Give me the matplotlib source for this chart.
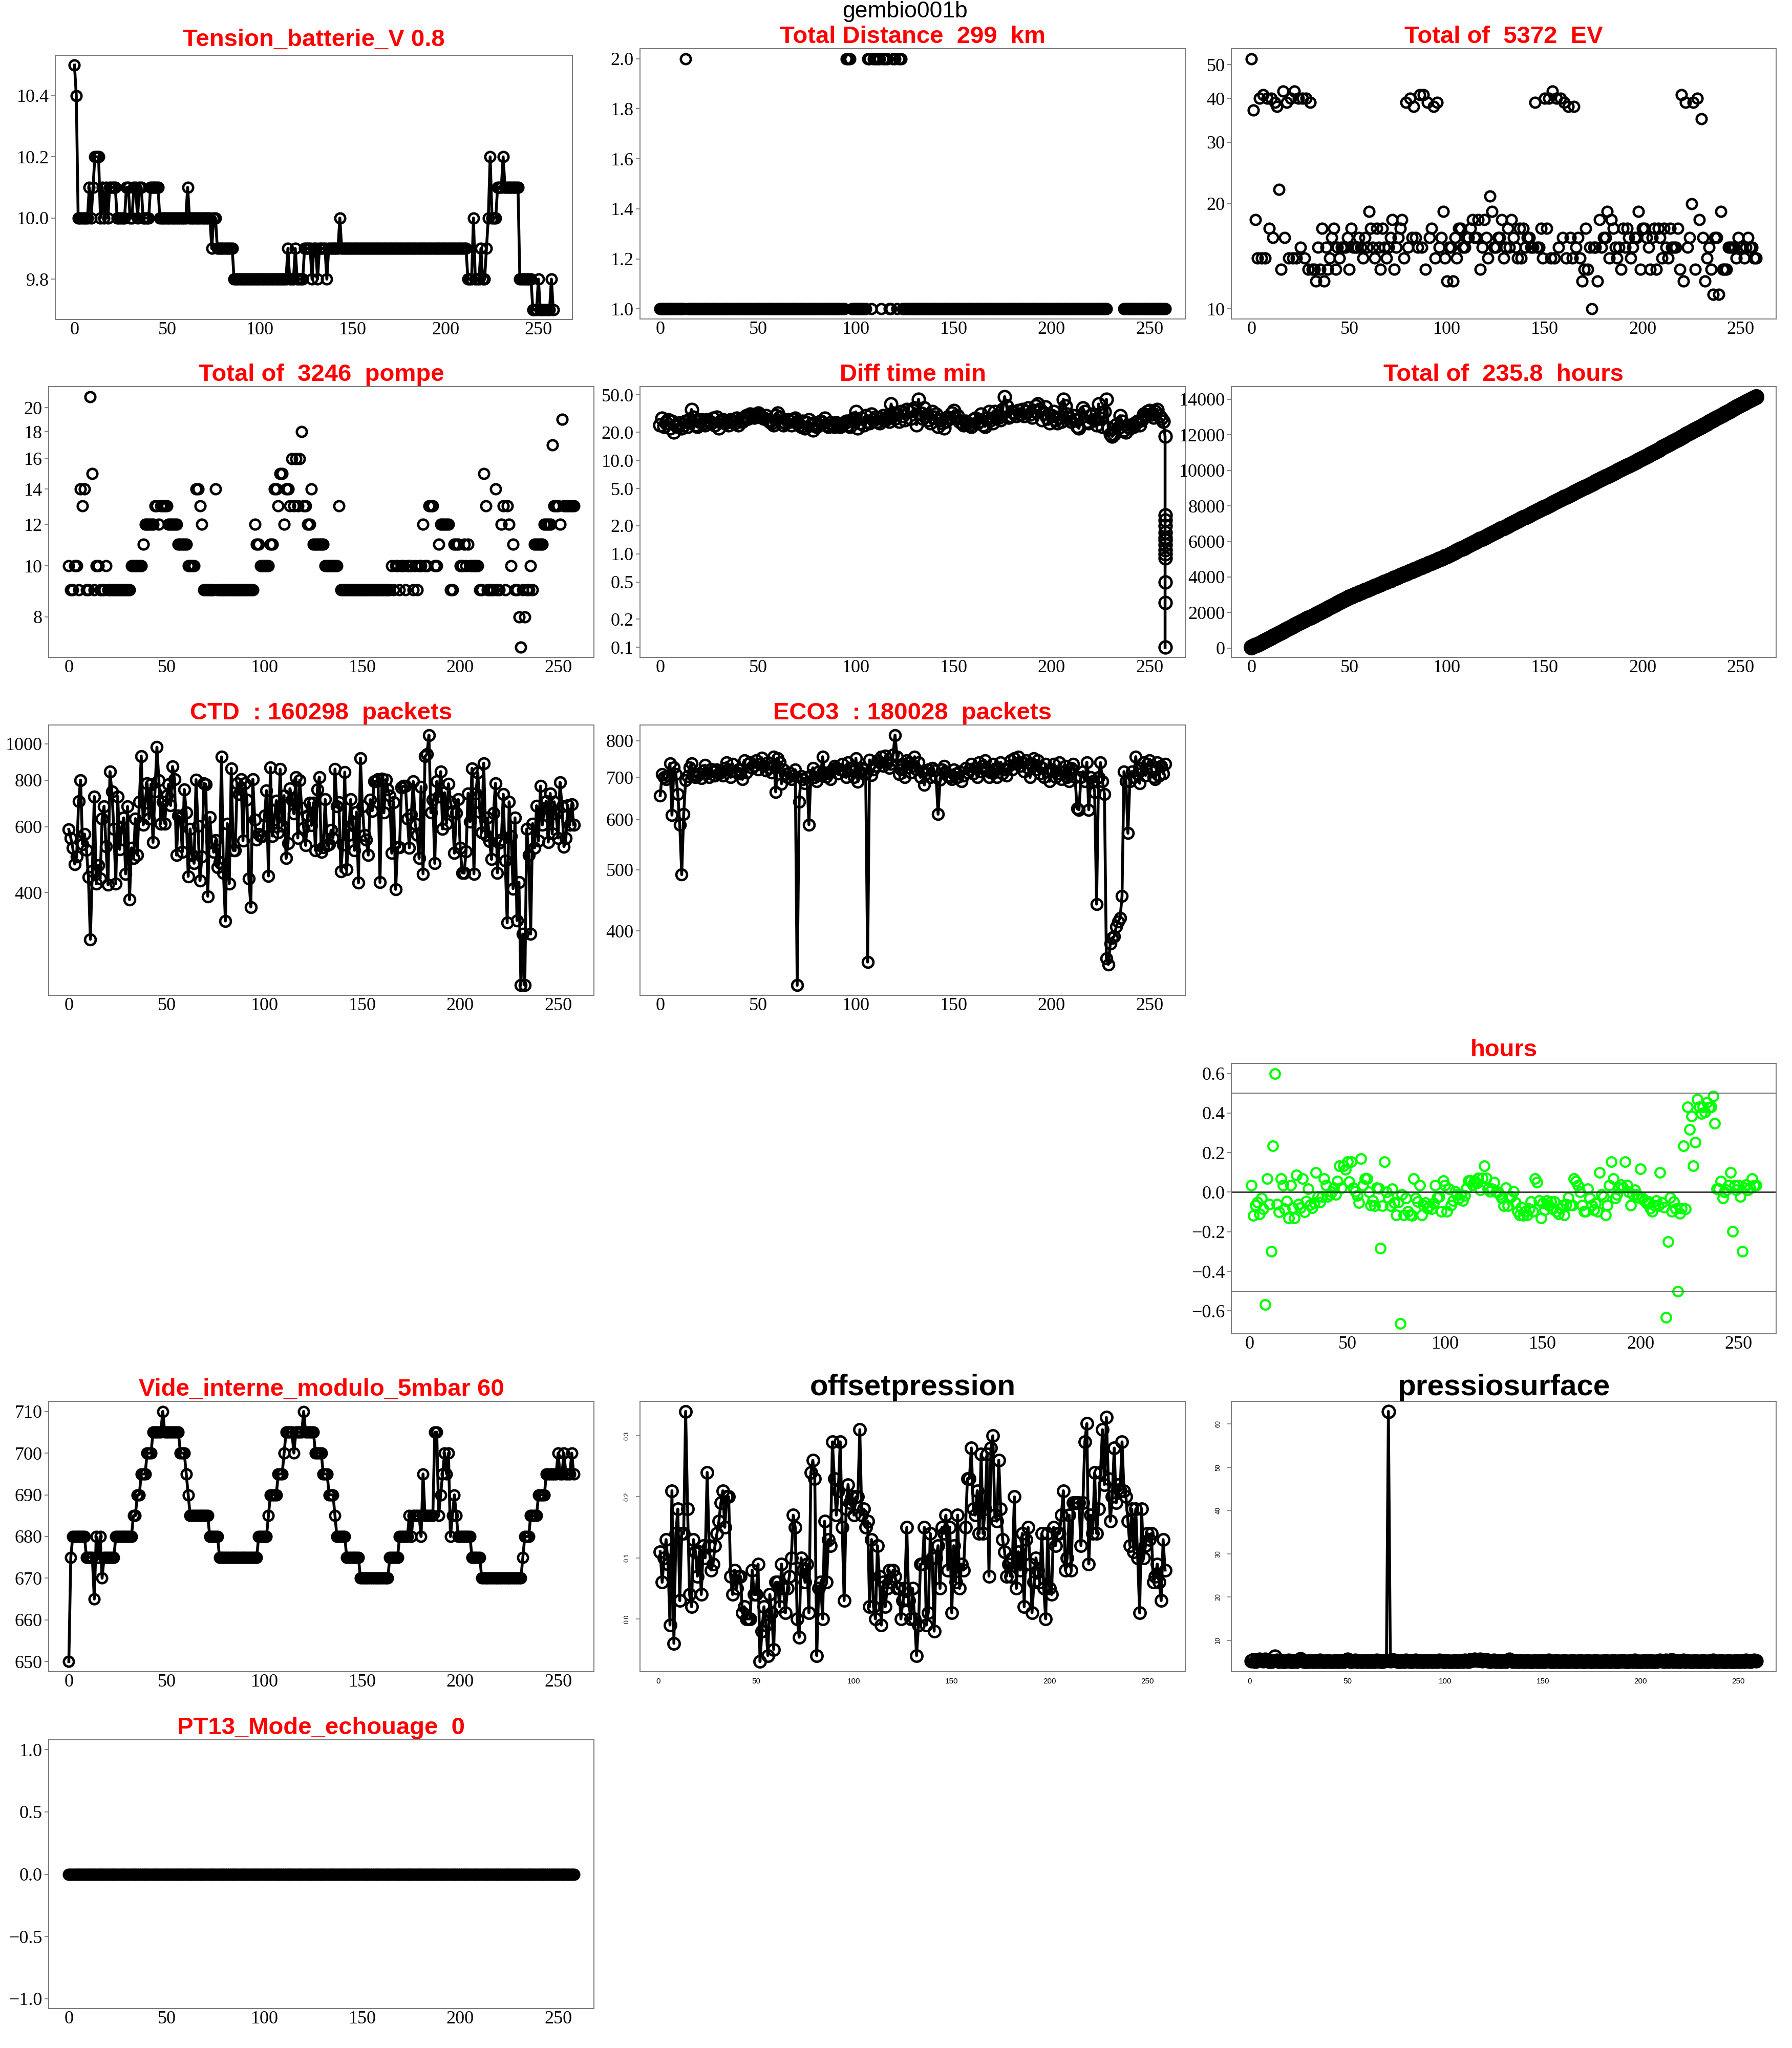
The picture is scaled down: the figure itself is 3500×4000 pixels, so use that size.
import numpy as np
import matplotlib
matplotlib.use("Agg")
import matplotlib.pyplot as plt
from matplotlib.ticker import NullLocator

# ---------------- data ----------------
def rle(pairs):
    out = []
    for v, n in pairs:
        out += [v] * n
    return out

tension_rle = [(10.5,1),(10.4,1),(10.0,6),(10.1,1),(10.0,1),(10.1,1),(10.2,3),(10.0,1),(10.1,1),(10.0,1),
               (10.1,1),(10.0,1),(10.1,4),(10.0,5),(10.1,2),(10.0,2),(10.1,2),(10.0,1),(10.1,2),(10.0,4),
               (10.1,5),(10.0,15),(10.1,1),(10.0,12),(9.9,1),(10.0,2),(9.9,9),(9.8,29),(9.9,1),(9.8,3),
               (9.9,1),(9.8,4),(9.9,4),(9.8,1),(9.9,2),(9.8,1),(9.9,4),(9.8,1),(9.9,6),(10.0,1),(9.9,68),
               (9.8,3),(10.0,1),(9.8,3),(9.9,1),(9.8,2),(9.9,1),(10.0,1),(10.2,1),(10.0,3),(10.1,3),
               (10.2,1),(10.1,8),(9.8,7),(9.7,3),(9.8,1),(9.7,6),(9.8,1),(9.7,1)]
tension = rle(tension_rle)

nan = float("nan")
distance_rle = [(1,13),(2,1),(1,81),(2,3),(1,8),(2,2),(1,1),(2,4),(1,1),(2,3),(1,2),(2,2),(1,1),(2,2),
                (1,105),(nan,8),(1,22)]
distance = rle(distance_rle)

ev = [52,37,18,14,40,14,41,14,40,17, 40,16,39,38,22,13,42,16,39,14, 40,14,42,14,40,15,40,14,40,13,
      39,13,13,12,15,13,17,12,15,13, 14,16,17,13,15,14,15,15,15,16, 13,17,15,15,15,16,15,14,16,15,
      19,17,15,14,17,15,13,17,15,14, 15,16,18,13,15,16,17,18,14,39, 15,40,16,38,16,15,41,15,41,13,
      39,16,17,38,14,39,15,16,19,14, 12,15,15,12,16,14,17,17,15,15, 16,16,17,18,16,16,18,13,15,18,
      16,14,21,19,15,15,16,16,18,14, 15,17,15,18,16,15,14,17,14,17, 15,16,16,15,15,39,15,15,17,14,
      40,17,40,14,42,14,40,15,40,16, 39,14,38,16,14,38,15,16,14,12, 13,17,13,15,10,15,15,12,18,15,
      16,16,19,14,18,17,15,14,15,13, 17,15,17,16,14,15,16,16,19,13, 17,17,16,15,13,16,17,13,17,16,
      14,17,15,14,17,15,15,15,17,13, 41,12,39,15,16,20,39,13,40,18, 35,16,12,14,15,13,11,16,16,11,
      19,13,13,13,15,15,15,15,14,16, 15,15,14,15,16,15,15,14,14]

pompe = [10,9,9,10,10,9,14,13,14,9, 9,21,15,9,10,10,9,9,9,10, 9,9,9,9,9,9,9,9,9,9,
         9,9,10,10,10,10,10,10,11,12, 12,12,12,12,13,13,12,13,13,13, 13,12,12,12,12,12,11,11,11,11,
         11,10,10,10,10,14,14,13,12,9, 9,9,9,9,9,14,9,9,9,9, 9,9,9,9,9,9,9,9,9,9,
         9,9,9,9,9,12,11,11,10,10, 10,10,10,11,11,14,14,13,15,15, 12,14,14,13,16,13,16,13,16,18,
         13,13,12,12,14,11,11,11,11,11, 11,10,10,10,10,10,10,10,13,9, 9,9,9,9,9,9,9,9,9,9,
         9,9,9,9,9,9,9,9,9,9, 9,9,9,9,9,10,9,10,10,9, 10,10,9,10,10,10,9,10,9,10,
         10,12,10,10,13,13,13,10,10,11, 12,12,12,12,12,9,9,11,11,11, 10,10,11,10,11,10,10,10,10,10,
         9,9,15,13,9,9,9,9,14,9, 9,12,13,9,13,12,10,11,9,9, 8,7,9,8,9,9,10,9,11,11,
         11,11,11,12,12,12,12,17,13,13, 13,12,19,13,13,13,13,13,13]

diff_main = [24,28,23,25,27,22,26,20,24,23, 25,22,24,26,23,27,35,29,24,23, 26,27,25,24,27,26,25,28,24,29,
             22,26,27,25,26,24,27,26,25,28, 24,27,26,29,30,28,31,30,29,31, 32,30,29,28,30,27,26,25,24,30,
             32,29,26,24,25,27,26,24,27,28, 25,24,23,26,22,25,27,24,21,25, 23,24,26,25,28,24,23,25,24,23,
             25,24,23,24,25,26,24,23,27,28, 33,22,25,28,24,30,26,25,31,27, 29,26,25,28,30,27,29,26,40,32,
             28,31,26,33,30,27,35,33,28,34, 36,24,45,32,28,36,30,27,25,33, 29,31,23,27,25,22,26,29,28,32,
             34,28,30,26,25,24,26,25,24,23, 27,28,25,26,31,24,23,28,33,27, 25,33,30,29,27,35,48,38,29,30,
             33,32,30,34,31,35,30,33,36,31, 29,34,38,40,35,27,32,37,28,25, 30,33,27,25,29,26,45,38,31,28,
             26,30,27,23,22,29,36,33,26,25, 30,31,27,24,40,28,23,33,45,22, 19,18,19,24,22,30,26,21,20,23,
             22,24,23,25,26,24,27,31,30,33, 34,31,29,33,35,30,28,26,18]
diff_tail = [2.6, 2.3, 2.0, 1.7, 1.5, 1.4, 1.25, 1.1, 1.0, 0.9, 0.5, 0.3, 0.1]

hours_total = [40,97,153,210,266,323,379,436,492,549, 605,662,718,775,831,888,944,1001,1057,1114,
               1170,1227,1283,1340,1396,1453,1509,1566,1622,1679, 1735,1792,1848,1905,1961,2018,2074,2131,2187,2244,
               2300,2357,2413,2470,2526,2583,2639,2696,2752,2809, 2866,2912,2959,3005,3051,3098,3144,3190,3236,3283,
               3329,3375,3422,3468,3514,3561,3607,3653,3699,3746, 3792,3838,3885,3931,3977,4024,4070,4116,4162,4209,
               4255,4301,4348,4394,4440,4487,4533,4579,4625,4672, 4718,4764,4811,4857,4903,4950,4996,5042,5088,5135,
               5183,5238,5293,5348,5403,5458,5512,5567,5622,5677, 5732,5787,5842,5897,5952,6007,6061,6116,6171,6226,
               6281,6336,6391,6446,6501,6556,6610,6665,6720,6775, 6830,6885,6940,6995,7050,7105,7159,7214,7269,7324,
               7379,7434,7489,7544,7599,7654,7708,7763,7818,7873, 7927,7982,8037,8092,8147,8202,8256,8311,8366,8421,
               8476,8531,8586,8641,8696,8751,8805,8860,8915,8970, 9025,9080,9135,9190,9245,9300,9354,9409,9464,9519,
               9574,9629,9684,9739,9794,9849,9903,9958,10013,10068, 10123,10178,10233,10288,10343,10398,10452,10507,10562,10617,
               10670,10730,10790,10850,10910,10970,11030,11090,11150,11210, 11270,11330,11390,11450,11510,11570,11630,11690,11750,11810,
               11870,11930,11990,12050,12110,12170,12230,12290,12350,12410, 12470,12530,12590,12650,12710,12770,12830,12890,12950,13010,
               13070,13130,13190,13250,13310,13370,13430,13490,13550,13610, 13670,13730,13790,13850,13910,13970,14030,14090,14146]

ctd = [590,560,527,477,500,702,800,539,574,521, 440,300,457,723,422,473,436,631,681,532,
       420,843,745,592,423,723,522,598,634,449, 680,383,527,494,631,504,700,928,607,695,
       784,631,780,545,745,980,800,612,700,612, 727,780,684,870,804,504,642,634,514,755,
       654,442,592,504,479,802,603,431,500,784, 780,391,636,549,513,552,467,482,923,452,
       336,612,423,860,519,518,784,733,804,550, 784,709,436,366,804,626,554,574,567,567,
       642,750,443,865,567,626,705,579,856,603, 727,494,542,759,709,650,813,560,800,674,
       596,535,642,695,605,696,519,755,815,513, 529,710,535,538,588,560,856,680,698,456,
       537,841,462,570,710,612,519,657,425,916, 680,570,554,504,709,662,793,793,804,426,
       807,654,802,755,727,510,698,408,529,529, 764,771,771,631,527,646,793,612,570,494,
       768,449,926,938,1056,654,709,479,793,723, 843,592,740,612,782,700,657,510,652,710,
       527,452,451,516,737,619,860,449,737,838, 657,579,888,570,634,549,491,652,784,452,
       543,554,733,487,332,700,567,410,634,337, 426,226,310,226,592,504,310,612,527,683,
       550,771,607,674,703,546,737,575,700,650, 560,790,680,531,560,684,607,690,607]

eco3 = [655,709,700,695,705,737,610,726,709,659, 589,491,612,693,703,726,737,705,700,705,
        710,698,718,732,710,700,722,715,705,720, 710,718,705,725,740,720,700,735,715,712,
        720,710,695,745,712,735,740,725,730,745, 720,735,752,730,718,740,725,712,755,664,
        751,740,684,720,708,700,712,695,705,720, 328,640,703,695,685,700,589,706,725,700,
        690,715,705,755,712,702,710,695,720,730, 725,710,720,735,715,700,740,725,718,700,
        751,689,715,725,720,710,357,746,706,720, 730,745,740,755,730,757,740,725,735,760,
        817,755,708,720,735,700,745,740,712,730, 755,720,740,700,715,681,710,720,700,725,
        718,700,612,694,720,730,715,705,700,695, 720,710,700,715,690,705,725,712,720,735,
        710,725,700,740,715,730,745,720,700,712, 735,718,700,725,740,710,720,705,730,745,
        720,750,735,755,730,740,715,745,725,700, 735,750,720,745,710,725,700,735,715,690,
        720,735,700,710,740,695,715,730,700,690, 725,735,700,625,622,700,715,690,740,622,
        700,690,664,441,700,739,690,659,362,354, 382,390,392,406,414,419,454,715,690,571,
        690,715,700,755,710,685,725,740,705,735, 745,720,700,695,740,705,730,710,735]

hours_dev = [0.035,-0.118,-0.065,-0.05,-0.11,-0.03,-0.085,-0.567,0.068,-0.06,
             -0.30,0.235,0.6,-0.06,-0.10,0.068,0.035,-0.085,-0.045,-0.13,
             0.035,-0.08,-0.13,0.087,-0.06,-0.08,0.068,-0.10,-0.045,0.016,
             -0.063,-0.08,-0.052,0.1,-0.022,-0.05,-0.022,0.068,0.035,-0.022,
             -0.011,0.0,0.022,-0.011,0.055,0.133,0.022,0.133,0.115,0.153,
             0.052,0.153,0.022,0.005,-0.016,-0.052,0.17,0.035,0.068,0.068,
             0.0,-0.065,-0.044,-0.069,0.022,0.02,-0.284,-0.069,0.153,0.0,
             -0.03,-0.069,0.016,-0.052,-0.115,-0.05,-0.665,-0.011,-0.115,-0.031,
             -0.098,-0.115,-0.118,0.068,-0.031,-0.049,0.035,-0.115,-0.065,-0.052,
             -0.082,-0.069,-0.085,-0.055,0.035,-0.027,-0.022,-0.098,0.057,0.035,
             -0.098,0.016,-0.065,-0.044,0.005,-0.011,-0.033,-0.011,-0.044,-0.016,
             0.018,0.057,0.057,0.038,0.057,0.044,0.071,0.011,0.071,0.133,
             0.071,0.016,0.005,0.016,0.051,0.0,0.0,-0.011,-0.031,-0.069,
             0.022,-0.069,-0.031,-0.022,0.005,-0.052,-0.098,-0.115,-0.076,-0.118,
             -0.098,-0.115,-0.085,-0.049,-0.098,0.068,0.051,-0.044,-0.131,-0.055,
             -0.089,-0.044,-0.065,-0.049,-0.085,-0.049,-0.098,-0.109,-0.082,-0.065,
             -0.115,-0.06,-0.027,-0.065,-0.065,0.068,0.055,0.035,0.0,-0.065,
             -0.098,-0.098,0.016,-0.031,-0.065,-0.089,-0.055,-0.098,0.1,-0.011,
             -0.022,-0.115,-0.065,0.035,0.153,0.068,-0.031,-0.011,0.022,0.038,
             0.022,0.153,0.035,0.0,-0.065,-0.011,0.011,-0.011,-0.027,0.118,
             -0.031,-0.044,-0.055,-0.049,-0.082,-0.098,-0.065,-0.044,-0.069,0.1,
             -0.052,-0.076,-0.633,-0.249,-0.027,-0.098,-0.049,-0.085,-0.5,-0.107,
             -0.082,0.235,-0.085,0.431,0.318,0.384,0.133,0.251,0.469,0.431,
             0.398,0.431,0.406,0.453,0.428,0.431,0.485,0.349,0.016,0.016,
             0.055,-0.031,0.0,0.011,0.035,0.1,-0.199,0.035,0.011,0.035,
             -0.022,-0.30,0.022,0.038,0.011,0.022,0.068,0.035,0.035]

vide_rle = [(650,1),(675,1),(680,7),(675,4),(665,1),(680,1),(675,1),(680,1),(670,1),(675,6),(680,9),
            (685,2),(690,2),(695,3),(700,3),(705,5),(710,1),(705,8),(700,3),(695,1),(690,1),(685,10),
            (680,5),(675,20),(680,5),(685,1),(690,4),(695,3),(700,1),(705,4),(700,1),(705,4),(710,1),
            (705,5),(700,4),(695,3),(690,3),(685,1),(680,5),(675,7),(670,15),(675,5),(680,5),(685,1),
            (680,1),(685,4),(680,1),(695,1),(685,5),(705,2),(685,1),(690,1),(695,1),(700,1),(695,1),
            (700,1),(680,1),(685,1),(690,1),(685,1),(680,7),(675,5),(670,21),(675,1),(680,3),(685,4),
            (690,4),(695,6),(700,1),(695,2),(700,1),(695,3),(700,1),(695,1)]
vide = rle(vide_rle)

offset = [0.11,0.06,0.10,0.13,0.09,-0.01,0.21,-0.04,0.14,0.18, 0.03,0.14,0.14,0.34,0.18,0.04,0.02,0.13,0.11,0.07,
          0.11,0.04,0.12,0.10,0.24,0.12,0.08,0.09,0.12,0.14, 0.16,0.19,0.21,0.15,0.20,0.20,0.07,0.04,0.08,0.05,
          0.07,0.07,0.01,0.02,0.0,0.0,0.0,0.08,0.04,0.04, 0.09,-0.07,-0.02,0.02,-0.01,-0.06,0.04,0.01,-0.05,0.06,
          0.06,0.02,0.09,0.05,0.01,0.05,0.07,0.10,0.17,0.15, 0.0,-0.03,0.10,0.08,0.06,0.09,0.01,0.24,0.26,0.23,
          -0.06,0.05,0.06,0.0,0.16,0.06,0.13,0.12,0.29,0.23, 0.17,0.21,0.29,0.15,0.03,0.18,0.22,0.19,0.20,0.17,
          0.20,0.20,0.31,0.17,0.18,0.15,0.16,0.02,0.13,0.02, 0.0,0.12,0.07,-0.01,0.06,0.02,0.05,0.08,0.06,0.08,
          0.07,0.05,0.05,0.0,0.03,0.05,0.15,0.03,0.0,0.05, 0.0,-0.06,-0.01,0.09,0.09,0.15,-0.01,0.01,0.14,0.10,
          -0.02,0.10,0.12,0.05,0.15,0.14,0.17,0.08,0.15,0.01, 0.12,0.06,0.17,0.05,0.09,0.08,0.15,0.23,0.23,0.28,
          0.18,0.17,0.21,0.14,0.27,0.14,0.18,0.27,0.07,0.28, 0.30,0.17,0.16,0.26,0.18,0.13,0.11,0.07,0.09,0.07,
          0.10,0.20,0.05,0.11,0.08,0.14,0.02,0.13,0.15,0.09, 0.01,0.06,0.10,0.08,0.06,0.14,0.05,0.0,0.14,0.05,
          0.04,0.15,0.12,0.14,0.14,0.17,0.21,0.08,0.10,0.17, 0.08,0.19,0.19,0.19,0.19,0.12,0.19,0.29,0.32,0.09,
          0.17,0.14,0.24,0.14,0.18,0.24,0.31,0.22,0.33,0.23, 0.16,0.20,0.28,0.19,0.22,0.21,0.29,0.21,0.20,0.16,
          0.12,0.18,0.11,0.18,0.10,0.01,0.18,0.10,0.12,0.14, 0.13,0.14,0.06,0.07,0.09,0.06,0.03,0.13,0.08]

pressio = [5.3,5.5,5.2,5.4,5.6,5.5,5.3,5.6,5.4,5.1, 5.2,5.3,6.3,5.4,5.2,5.3,5.1,5.2,5.3,5.4,
           5.2,5.1,5.3,5.2,5.4,5.7,5.3,5.2,5.1,5.2, 5.3,5.2,5.1,5.3,5.2,5.4,5.2,5.1,5.2,5.3,
           5.2,5.1,5.2,5.3,5.2,5.1,5.3,5.2,5.4,5.6, 5.3,5.2,5.3,5.4,5.2,5.3,5.1,5.2,5.3,5.2,
           5.2,5.3,5.1,5.2,5.4,5.3,5.2,5.1,5.3,5.4, 62.9,5.3,5.5,5.4,5.3,5.2,5.1,5.3,5.2,5.4,
           5.3,5.2,5.1,5.3,5.4,5.2,5.3,5.1,5.2,5.3, 5.2,5.3,5.2,5.1,5.3,5.2,5.4,5.3,5.2,5.1,
           5.3,5.2,5.1,5.2,5.3,5.2,5.1,5.3,5.2,5.4, 5.3,5.2,5.5,5.4,5.6,5.5,5.4,5.6,5.3,5.4,
           5.5,5.3,5.2,5.3,5.4,5.2,5.3,5.1,5.2,5.3, 5.2,5.4,5.6,5.3,5.2,5.3,5.1,5.2,5.3,5.2,
           5.1,5.3,5.2,5.1,5.2,5.3,5.2,5.1,5.3,5.2, 5.2,5.3,5.4,5.2,5.1,5.2,5.3,5.2,5.1,5.2,
           5.3,5.2,5.1,5.2,5.3,5.2,5.1,5.2,5.3,5.2, 5.2,5.1,5.3,5.2,5.1,5.2,5.3,5.2,5.1,5.2,
           5.2,5.3,5.2,5.1,5.2,5.3,5.2,5.1,5.2,5.3, 5.3,5.2,5.1,5.2,5.3,5.2,5.4,5.2,5.1,5.2,
           5.2,5.3,5.2,5.1,5.3,5.2,5.1,5.2,5.3,5.4, 5.3,5.2,5.4,5.2,5.3,5.5,5.2,5.3,5.1,5.2,
           5.3,5.4,5.2,5.3,5.2,5.1,5.2,5.3,5.2,5.1, 5.2,5.3,5.2,5.1,5.2,5.3,5.4,5.2,5.1,5.2,
           5.3,5.2,5.1,5.2,5.3,5.2,5.1,5.2,5.3,5.2, 5.2,5.3,5.2,5.4,5.3,5.2,5.3,5.4,5.3]

pt13 = [0] * 259

titles = {
    "tension": "Tension_batterie_V 0.8",
    "distance": "Total Distance  299  km",
    "ev": "Total of  5372  EV",
    "pompe": "Total of  3246  pompe",
    "diff": "Diff time min",
    "hours_total": "Total of  235.8  hours",
    "ctd": "CTD  : 160298  packets",
    "eco3": "ECO3  : 180028  packets",
    "hours": "hours",
    "vide": "Vide_interne_modulo_5mbar 60",
    "offset": "offsetpression",
    "pressio": "pressiosurface",
    "pt13": "PT13_Mode_echouage  0",
}
xticks = [0, 50, 100, 150, 200, 250]

# ---------------- figure ----------------
plt.rcParams["font.family"] = ["Liberation Serif", "DejaVu Serif"]
W, H = 3500, 4000
fig = plt.figure(figsize=(35, 40), dpi=100)
fig.patch.set_facecolor("white")

cols = [(95, 1160), (1250, 2315), (2405, 3469)]
rows = [(95, 623), (755, 1284), (1416, 1944), (2077, 2605), (2737, 3265), (3398, 3923)]

def rect(x0, x1, y0, y1):
    return [x0 / W, 1 - y1 / H, (x1 - x0) / W, (y1 - y0) / H]

SPINE = "#7a7a7a"
TITLE_FONT = ["Liberation Sans", "DejaVu Sans"]

def make_ax(r, title, tcolor="red", tsize=34, tpad=8, serif=True):
    ax = fig.add_axes(r)
    for s in ax.spines.values():
        s.set_color(SPINE)
        s.set_linewidth(1.4)
    ax.set_title(title, color=tcolor, fontsize=tsize, fontweight="bold",
                 family=TITLE_FONT, pad=tpad)
    if serif:
        ax.tick_params(axis="y", length=6, width=1.3, color=SPINE, pad=3, labelsize=26)
        ax.tick_params(axis="x", length=0, pad=3, labelsize=26)
    ax.margins(x=0.04, y=0.04)
    return ax

def finish(ax, yt, ylab, log=False):
    ax.set_xticks(xticks)
    ax.set_xticklabels([str(v) for v in xticks])
    ax.set_yticks(yt)
    ax.set_yticklabels(ylab)
    if log:
        ax.yaxis.set_minor_locator(NullLocator())

LW = 4.0
MEW = 3.4
def lp(ax, x, y, ms=14, line=True, color="black", mew=MEW):
    ax.plot(x, y, linestyle="-" if line else "none", color=color, lw=LW,
            marker="o", ms=ms, mfc="none", mec=color, mew=mew)

# Row 1
ax = make_ax(rect(108, 1118, 108, 624), titles["tension"], tpad=13)
lp(ax, np.arange(len(tension)), tension)
finish(ax, [9.8, 10.0, 10.2, 10.4], ["9.8", "10.0", "10.2", "10.4"])

ax = make_ax(rect(*cols[1], *rows[0]), titles["distance"])
lp(ax, np.arange(len(distance)), distance, line=False)
finish(ax, [1.0, 1.2, 1.4, 1.6, 1.8, 2.0], ["1.0", "1.2", "1.4", "1.6", "1.8", "2.0"])

ax = make_ax(rect(*cols[2], *rows[0]), titles["ev"])
ax.set_yscale("log")
lp(ax, np.arange(len(ev)), ev, line=False)
finish(ax, [10, 20, 30, 40, 50], ["10", "20", "30", "40", "50"], log=True)

# Row 2
ax = make_ax(rect(*cols[0], *rows[1]), titles["pompe"])
ax.set_yscale("log")
lp(ax, np.arange(len(pompe)), pompe, line=False)
finish(ax, [8, 10, 12, 14, 16, 18, 20], ["8", "10", "12", "14", "16", "18", "20"], log=True)

ax = make_ax(rect(*cols[1], *rows[1]), titles["diff"])
ax.set_yscale("log")
dx = list(np.arange(len(diff_main))) + [len(diff_main) - 1] * len(diff_tail)
dy = diff_main + diff_tail
lp(ax, dx, dy, ms=17)
dt = [0.1, 0.2, 0.5, 1, 2, 5, 10, 20, 50]
finish(ax, dt, ["0.1", "0.2", "0.5", "1.0", "2.0", "5.0", "10.0", "20.0", "50.0"], log=True)

ax = make_ax(rect(*cols[2], *rows[1]), titles["hours_total"])
lp(ax, np.arange(len(hours_total)), hours_total, ms=19)
ht = list(range(0, 14001, 2000))
finish(ax, ht, [str(v) for v in ht])

# Row 3
ax = make_ax(rect(*cols[0], *rows[2]), titles["ctd"])
ax.set_yscale("log")
lp(ax, np.arange(len(ctd)), ctd, ms=15)
finish(ax, [400, 600, 800, 1000], ["400", "600", "800", "1000"], log=True)

ax = make_ax(rect(*cols[1], *rows[2]), titles["eco3"])
ax.set_yscale("log")
lp(ax, np.arange(len(eco3)), eco3, ms=15)
finish(ax, [400, 500, 600, 700, 800], ["400", "500", "600", "700", "800"], log=True)

# Row 4
ax = make_ax(rect(*cols[2], *rows[3]), titles["hours"], tpad=10)
ax.plot(np.arange(1, len(hours_dev) + 1), hours_dev, linestyle="none", marker="o",
        ms=13.5, mfc="none", mec="#00ff00", mew=3.0)
ax.axhline(0.5, color="#666666", lw=1.3)
ax.axhline(-0.5, color="#666666", lw=1.3)
ax.axhline(0.0, color="#333333", lw=2.0)
hv = [-0.6, -0.4, -0.2, 0.0, 0.2, 0.4, 0.6]
finish(ax, hv, ["\u22120.6", "\u22120.4", "\u22120.2", "0.0", "0.2", "0.4", "0.6"])

# Row 5
ax = make_ax(rect(*cols[0], *rows[4]), titles["vide"])
lp(ax, np.arange(len(vide)), vide)
vt = list(range(650, 711, 10))
finish(ax, vt, [str(v) for v in vt])

def small_style(ax):
    ax.tick_params(axis="y", length=6, width=1.2, color=SPINE, pad=8, labelsize=9,
                   labelrotation=90)
    ax.tick_params(axis="x", length=0, pad=14, labelsize=11)
    for lab in ax.get_xticklabels() + ax.get_yticklabels():
        lab.set_family(["Liberation Sans", "DejaVu Sans"])
        lab.set_verticalalignment("center")

ax = make_ax(rect(*cols[1], *rows[4]), titles["offset"], tcolor="black", tsize=42, tpad=6, serif=False)
lp(ax, np.arange(1, len(offset) + 1), offset, ms=16)
finish(ax, [0.0, 0.1, 0.2, 0.3], ["0.0", "0.1", "0.2", "0.3"])
small_style(ax)

ax = make_ax(rect(*cols[2], *rows[4]), titles["pressio"], tcolor="black", tsize=42, tpad=6, serif=False)
lp(ax, np.arange(1, len(pressio) + 1), pressio, ms=17)
pt = [10, 20, 30, 40, 50, 60]
finish(ax, pt, [str(v) for v in pt])
small_style(ax)

# Row 6
ax = make_ax(rect(*cols[0], *rows[5]), titles["pt13"])
lp(ax, np.arange(len(pt13)), pt13)
ax.set_ylim(-1.08, 1.08)
finish(ax, [-1.0, -0.5, 0.0, 0.5, 1.0], ["\u22121.0", "\u22120.5", "0.0", "0.5", "1.0"])

fig.text(0.505, 1 - 2 / H, "gembio001b", ha="center", va="top", fontsize=32,
         family=TITLE_FONT)

fig.savefig("out.png", dpi=100, facecolor="white")
